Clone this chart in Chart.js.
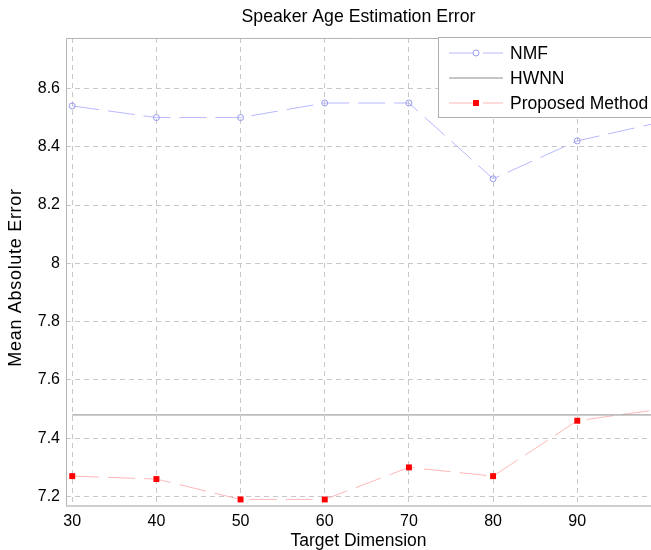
<!DOCTYPE html>
<html>
<head>
<meta charset="utf-8">
<script src="https://cdn.jsdelivr.net/npm/chart.js@4/dist/chart.umd.min.js"></script>
<style>
  html, body { margin: 0; padding: 0; background: #fff; overflow: hidden; }
  #wrap { width: 651px; height: 550px; }
  canvas { display: block; }
</style>
</head>
<body>
<div id="wrap"><canvas id="chart" width="651" height="550"></canvas></div>
<script>
// target dimensions (the last one lies just past the visible x range)
const dims = [30, 40, 50, 60, 70, 80, 90, 100];
const nmfErr = [8.54, 8.50, 8.50, 8.55, 8.55, 8.29, 8.42, 8.485];
const hwnnErr = [7.48, 7.48, 7.48, 7.48, 7.48, 7.48, 7.48, 7.48];
const proposedErr = [7.27, 7.26, 7.19, 7.19, 7.30, 7.27, 7.46, 7.50];

const xTicks = [30, 40, 50, 60, 70, 80, 90];
const yTicks = [7.2, 7.4, 7.6, 7.8, 8.0, 8.2, 8.4, 8.6];

const FONT = '"Liberation Sans", Arial, sans-serif';

const toPoints = (ys) => dims.map((x, i) => ({ x: x, y: ys[i] }));

// frame, titles and the boxed legend
const decorations = {
  id: 'decorations',
  beforeDatasetsDraw(chart) {
    const { ctx, chartArea: a } = chart;
    ctx.save();
    ctx.strokeStyle = '#b4b4b4';
    ctx.lineWidth = 1;
    ctx.beginPath();
    ctx.moveTo(a.left + 0.5, a.bottom);
    ctx.lineTo(a.left + 0.5, a.top + 0.5);
    ctx.lineTo(a.right + 2, a.top + 0.5);
    ctx.stroke();
    ctx.strokeStyle = '#cfcfcf';
    ctx.lineWidth = 2;
    ctx.beginPath();
    ctx.moveTo(a.left, a.bottom + 1);
    ctx.lineTo(a.right + 2, a.bottom + 1);
    ctx.stroke();
    ctx.restore();
  },
  afterDraw(chart) {
    const { ctx, chartArea: a } = chart;
    ctx.save();
    ctx.fillStyle = '#000';
    ctx.textAlign = 'center';
    ctx.textBaseline = 'middle';
    ctx.font = '17.7px ' + FONT;
    ctx.fillText('Speaker Age Estimation Error', (a.left + a.right) / 2, 17);
    ctx.font = '17.5px ' + FONT;
    ctx.fillText('Target Dimension', (a.left + a.right) / 2, 541);
    ctx.translate(16, 277.5);
    ctx.rotate(-Math.PI / 2);
    ctx.font = '18px ' + FONT;
    ctx.letterSpacing = '0.7px';
    ctx.fillText('Mean Absolute Error', 0, 0);
    ctx.restore();

    // legend box, runs off the right edge
    const bx = 438.5, by = 37.5, bw = 240, bh = 80;
    ctx.save();
    ctx.fillStyle = '#fff';
    ctx.fillRect(bx, by, bw, bh);
    ctx.strokeStyle = '#b0b0b0';
    ctx.lineWidth = 1;
    ctx.strokeRect(bx, by, bw, bh);
    const rows = [53, 78, 103];
    chart.data.datasets.forEach((ds, i) => {
      const y = rows[i];
      ctx.strokeStyle = ds.borderColor;
      ctx.lineWidth = 1;
      ctx.setLineDash(ds.borderDash ? [24, 10] : []);
      ctx.beginPath();
      ctx.moveTo(449, y);
      ctx.lineTo(503, y);
      ctx.stroke();
      ctx.setLineDash([]);
      if (ds.pointRadius > 0) {
        ctx.fillStyle = ds.pointBackgroundColor;
        ctx.strokeStyle = ds.pointBorderColor;
        ctx.lineWidth = ds.pointBorderWidth || 1;
        Chart.helpers.drawPoint(ctx, {
          pointStyle: ds.pointStyle,
          radius: ds.pointRadius,
          borderWidth: ds.pointBorderWidth,
          rotation: 0
        }, 476, y);
      }
      ctx.fillStyle = '#000';
      ctx.textAlign = 'left';
      ctx.textBaseline = 'middle';
      ctx.font = '17.5px ' + FONT;
      ctx.fillText(ds.label, 510, y + 1);
    });
    ctx.restore();
  }
};

new Chart(document.getElementById('chart'), {
  type: 'line',
  data: {
    datasets: [
      {
        label: 'NMF',
        data: toPoints(nmfErr),
        borderColor: '#b8b8ff',
        borderWidth: 1,
        borderDash: [27, 9],
        pointStyle: 'circle',
        pointRadius: 3,
        pointBorderColor: '#9a9aee',
        pointBackgroundColor: 'rgba(255,255,255,0)',
        pointBorderWidth: 1
      },
      {
        label: 'HWNN',
        data: toPoints(hwnnErr),
        borderColor: '#8c8c8c',
        borderWidth: 1,
        pointRadius: 0
      },
      {
        label: 'Proposed Method',
        data: toPoints(proposedErr),
        borderColor: '#ffb8b8',
        borderWidth: 1,
        borderDash: [27, 9],
        pointStyle: 'rect',
        pointRadius: 4.2,
        pointBorderColor: '#ff0000',
        pointBackgroundColor: '#ff0000',
        pointBorderWidth: 0
      }
    ]
  },
  options: {
    responsive: false,
    animation: false,
    events: [],
    layout: { autoPadding: false, padding: { top: 38, right: 0, bottom: 0, left: 0 } },
    plugins: {
      legend: { display: false },
      title: { display: false },
      tooltip: { enabled: false }
    },
    scales: {
      x: {
        type: 'linear',
        min: 29.26,
        max: 98.76,
        afterBuildTicks: (s) => { s.ticks = xTicks.map(v => ({ value: v })); },
        afterFit: (s) => { s.height = 45; s.paddingLeft = 0; s.paddingRight = 0; },
        grid: { color: '#c8c8c8', lineWidth: 1, drawTicks: false },
        border: { display: false, dash: [5, 4] },
        ticks: {
          color: '#000',
          padding: 7,
          maxRotation: 0,
          autoSkip: false,
          font: { family: FONT, size: 16 }
        }
      },
      y: {
        type: 'linear',
        min: 7.171,
        max: 8.773,
        afterBuildTicks: (s) => { s.ticks = yTicks.map(v => ({ value: v })); },
        afterFit: (s) => { s.width = 66; s.paddingTop = 0; s.paddingBottom = 0; },
        grid: { color: '#c8c8c8', lineWidth: 1, drawTicks: false },
        border: { display: false, dash: [5, 4] },
        ticks: {
          color: '#000',
          padding: 6,
          autoSkip: false,
          font: { family: FONT, size: 16 },
          callback: (v) => String(+v.toFixed(1))
        }
      }
    }
  },
  plugins: [decorations]
});
</script>
</body>
</html>
